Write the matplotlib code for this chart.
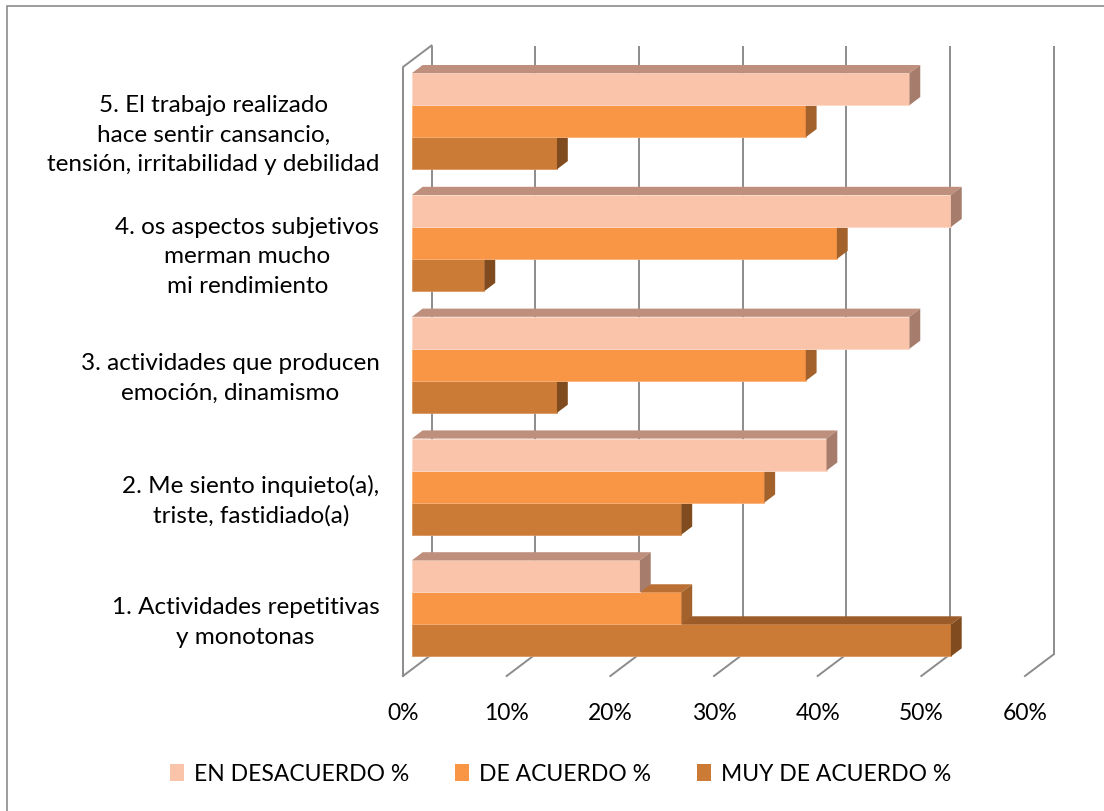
#!/usr/bin/env python3
"""
Pseudo-3D clustered horizontal bar chart (Excel style) of survey answers.
"""

import matplotlib
matplotlib.use('Agg')
import matplotlib.pyplot as plt
from matplotlib.patches import Polygon, Rectangle, Patch

# Data (percent)
CATEGORIES = [
    "1. Actividades repetitivas\ny monotonas",
    "2. Me siento inquieto(a),\ntriste, fastidiado(a)",
    "3. actividades que producen\nemoción, dinamismo",
    "4. os aspectos subjetivos\nmerman mucho\nmi rendimiento",
    "5. El trabajo realizado\nhace sentir cansancio,\ntensión, irritabilidad y debilidad",
]
SERIES = ["EN DESACUERDO %", "DE ACUERDO %", "MUY DE ACUERDO %"]
EN_DESACUERDO = [22, 40, 48, 52, 48]
DE_ACUERDO = [26, 34, 38, 41, 38]
MUY_DE_ACUERDO = [52, 26, 14, 7, 14]
X_TICKS = [0, 10, 20, 30, 40, 50, 60]

# front / top / side face colours per series
FRONT = ['#FAC4AB', '#F89646', '#CC7B37']
TOP = ['#BE8F7C', '#BA7034', '#9C5C2A']
SIDE = ['#A67D6C', '#A3622C', '#804C1F']
EDGE = ['#FCD9C8', '#FAB27A', '#D89660']
GRID = '#8C8C8C'
TEXT = '#000000'
FONT = 'Lato'

W, H = 1104, 812
DEPTH_PX = (28.5, 21.5)   # depth offset of the 3D box in pixels
BAR_H = 0.263             # bar thickness in category units


def main():
    fig = plt.figure(figsize=(W / 100, H / 100), dpi=100)
    fig.patch.set_facecolor('white')

    # axes = front plane of the 3D box
    ax = fig.add_axes([403 / W, (H - 677) / H, 622 / W, 609 / H])
    ax.set_xlim(0, 60)
    ax.set_ylim(-0.5, len(CATEGORIES) - 0.5)
    ax.set_facecolor('none')
    for sp in ax.spines.values():
        sp.set_visible(False)

    # pixel depth -> data units
    x_per_px = 60 / 622
    y_per_px = len(CATEGORIES) / 609
    dx = DEPTH_PX[0] * x_per_px
    dy = DEPTH_PX[1] * y_per_px
    y0, y1 = -0.5, len(CATEGORIES) - 0.5

    # back wall gridlines + floor diagonals
    for t in X_TICKS:
        ax.plot([t + dx, t + dx], [y0 + dy, y1 + dy], color=GRID, lw=1.4,
                zorder=1, clip_on=False, solid_capstyle='butt')
        ax.plot([t, t + dx], [y0, y0 + dy], color=GRID, lw=1.4,
                zorder=1, clip_on=False)
    # left wall outline
    ax.plot([0, 0, dx], [y0, y1, y1 + dy], color=GRID, lw=1.4,
            zorder=1, clip_on=False)

    # bars, drawn bottom to top so upper bars hide the lower top faces
    f0, f1 = 0.31, 0.69
    series_vals = [EN_DESACUERDO, DE_ACUERDO, MUY_DE_ACUERDO]
    z = 2
    for c in range(len(CATEGORIES)):
        for s in [2, 1, 0]:
            v = series_vals[s][c]
            yb = c - 1.5 * BAR_H + (2 - s) * BAR_H
            yt = yb + BAR_H
            ox, oy = f0 * dx, f0 * dy
            ex, ey = (f1 - f0) * dx, (f1 - f0) * dy
            ax.add_patch(Rectangle((ox, yb + oy), v, BAR_H, facecolor=FRONT[s],
                                   edgecolor=EDGE[s], lw=0.6, zorder=z,
                                   clip_on=False))
            ax.add_patch(Polygon([(ox, yt + oy), (ox + v, yt + oy),
                                  (ox + v + ex, yt + oy + ey), (ox + ex, yt + oy + ey)],
                                 closed=True, facecolor=TOP[s], edgecolor='none',
                                 zorder=z, clip_on=False))
            ax.add_patch(Polygon([(ox + v, yb + oy), (ox + v + ex, yb + oy + ey),
                                  (ox + v + ex, yt + oy + ey), (ox + v, yt + oy)],
                                 closed=True, facecolor=SIDE[s], edgecolor='none',
                                 zorder=z, clip_on=False))
            z += 1

    # ticks and labels
    ax.set_xticks(X_TICKS)
    ax.set_xticklabels([f"{t}%" for t in X_TICKS], fontsize=16.5,
                       family=FONT, color=TEXT)
    ax.set_yticks(range(len(CATEGORIES)))
    ax.set_yticklabels(CATEGORIES, fontsize=17.5, family=FONT, color=TEXT)
    for lab in ax.get_yticklabels():
        lab.set_multialignment('center')
        lab.set_linespacing(1.5)
    ax.tick_params(axis='x', length=0, pad=19)
    ax.tick_params(axis='y', length=0, pad=17)

    # legend
    handles = [Patch(facecolor=FRONT[i], edgecolor='none', label=SERIES[i])
               for i in range(len(SERIES))]
    fig.legend(handles=handles, loc='center', bbox_to_anchor=(0.508, 1 - 775 / H),
               ncol=3, frameon=False, prop={'family': FONT, 'size': 16.5},
               handlelength=0.6, handleheight=0.7, handletextpad=0.45,
               columnspacing=2.0)

    # chart border
    fig.add_artist(Rectangle((7 / W, -0.1), 1.2, 1 - 7 / H + 0.1,
                             transform=fig.transFigure, fill=False,
                             edgecolor=GRID, lw=1.2))

    fig.savefig('out.png', dpi=100, facecolor='white')


if __name__ == "__main__":
    main()
